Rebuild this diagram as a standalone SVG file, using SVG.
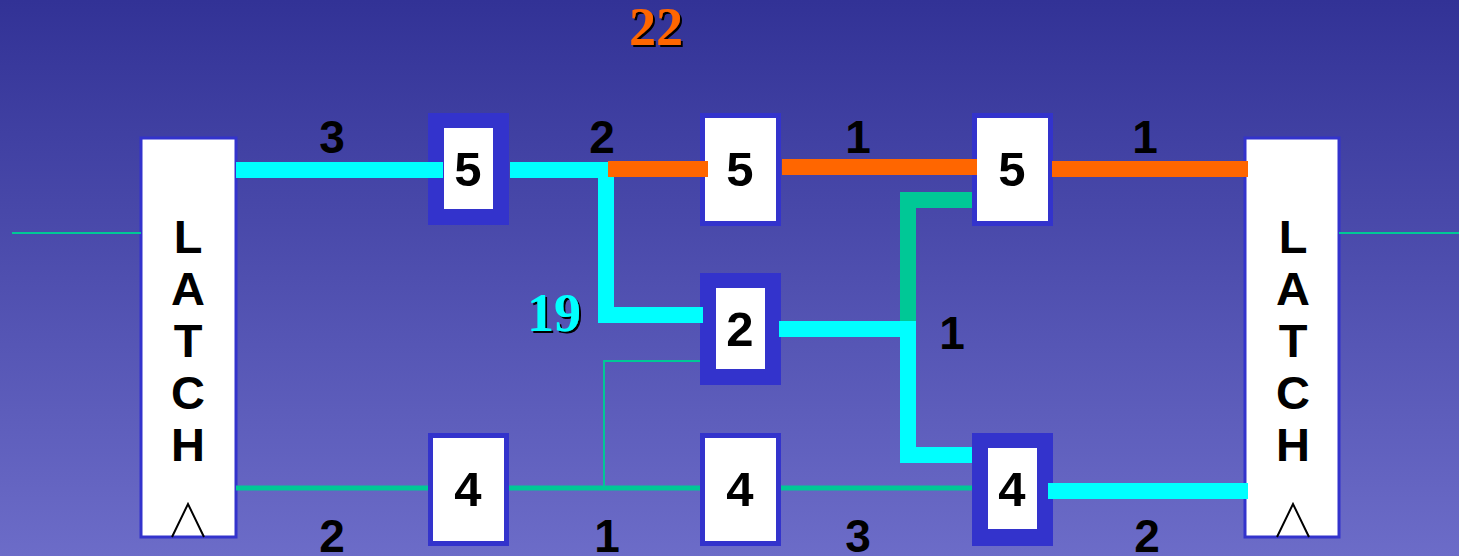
<svg xmlns="http://www.w3.org/2000/svg" width="1459" height="556" viewBox="0 0 1459 556">
<defs>
<linearGradient id="bg" x1="0" y1="0" x2="0" y2="1">
<stop offset="0" stop-color="#323296"/>
<stop offset="1" stop-color="#6c6cc8"/>
</linearGradient>
<filter id="sh" x="-20%" y="-20%" width="150%" height="150%">
<feDropShadow dx="2" dy="2" stdDeviation="0" flood-color="#000000" flood-opacity="1"/>
</filter>
</defs>
<style>
.latch{fill:#ffffff;stroke:#3333cc;stroke-width:3}
.outer{fill:#3333cc}
.inner{fill:#ffffff}
.lt{font-family:"Liberation Sans",Arial,sans-serif;font-weight:bold;font-size:47px;fill:#000;text-anchor:middle}
.num{font-family:"Liberation Sans",Arial,sans-serif;font-weight:bold;font-size:49px;fill:#000;text-anchor:middle}
.lbl{font-family:"Liberation Sans",Arial,sans-serif;font-weight:bold;font-size:46px;fill:#000;text-anchor:middle}
.big{font-family:"Liberation Serif","Times New Roman",serif;font-weight:bold;font-size:54px;text-anchor:middle;filter:url(#sh)}
.clk{fill:none;stroke:#000;stroke-width:2}
.cy{fill:none;stroke:#00ffff;stroke-width:16}
.or{fill:none;stroke:#ff6600;stroke-width:16}
.tk{fill:none;stroke:#00c896;stroke-width:16}
.tm{fill:none;stroke:#00c896;stroke-width:5}
.tt{fill:none;stroke:#00c896;stroke-width:2}
</style>
<rect x="0" y="0" width="1459" height="556" fill="url(#bg)"/>

<g id="latch-left">
<rect class="latch" x="141" y="138" width="95" height="399"/>
<text class="lt" x="188" y="253">L</text>
<text class="lt" x="188" y="305">A</text>
<text class="lt" x="188" y="357">T</text>
<text class="lt" x="188" y="409">C</text>
<text class="lt" x="188" y="461">H</text>
<polyline class="clk" points="172,537 188,504 204,537"/>
</g>
<g id="latch-right">
<rect class="latch" x="1245" y="138" width="94" height="399"/>
<text class="lt" x="1293" y="253">L</text>
<text class="lt" x="1293" y="305">A</text>
<text class="lt" x="1293" y="357">T</text>
<text class="lt" x="1293" y="409">C</text>
<text class="lt" x="1293" y="461">H</text>
<polyline class="clk" points="1277,537 1293,504 1309,537"/>
</g>

<g id="gate-a">
<rect class="outer" x="428" y="113" width="81" height="112"/>
<rect class="inner" x="444" y="128" width="49" height="81"/>
<text class="num" x="468" y="186">5</text>
</g>
<g id="gate-b">
<rect class="outer" x="700" y="113" width="81" height="113"/>
<rect class="inner" x="705" y="118" width="71" height="103"/>
<text class="num" x="740" y="186">5</text>
</g>
<g id="gate-c">
<rect class="outer" x="972" y="113" width="81" height="113"/>
<rect class="inner" x="977" y="118" width="71" height="103"/>
<text class="num" x="1012" y="186">5</text>
</g>
<g id="gate-d">
<rect class="outer" x="700" y="273" width="81" height="112"/>
<rect class="inner" x="716" y="288" width="49" height="81"/>
<text class="num" x="740" y="346">2</text>
</g>
<g id="gate-e">
<rect class="outer" x="428" y="433" width="81" height="113"/>
<rect class="inner" x="433" y="438" width="71" height="103"/>
<text class="num" x="468" y="506">4</text>
</g>
<g id="gate-f">
<rect class="outer" x="700" y="433" width="81" height="113"/>
<rect class="inner" x="705" y="438" width="71" height="103"/>
<text class="num" x="740" y="506">4</text>
</g>
<g id="gate-g">
<rect class="outer" x="972" y="433" width="81" height="113"/>
<rect class="inner" x="988" y="448" width="49" height="81"/>
<text class="num" x="1012" y="506">4</text>
</g>

<g id="connectors">
<line class="tt" x1="12" y1="233" x2="141" y2="233"/>
<line class="tt" x1="1339" y1="233" x2="1459" y2="233"/>
<line class="tm" x1="236" y1="488" x2="428" y2="488"/>
<line class="tm" x1="509" y1="488" x2="700" y2="488"/>
<line class="tm" x1="781" y1="488" x2="972" y2="488"/>
<polyline class="tt" points="604,488 604,361 700,361"/>
<line class="cy" x1="236" y1="170" x2="443" y2="170"/>
<polyline class="cy" points="510,170 606,170 606,315 703,315"/>
<line class="or" x1="608" y1="169" x2="708" y2="169"/>
<line class="or" x1="782" y1="167" x2="977" y2="167"/>
<line class="or" x1="1052" y1="169" x2="1248" y2="169"/>
<polyline class="tk" points="972,200 908,200 908,328"/>
<polyline class="cy" points="779,329 908,329 908,455 972,455"/>
<line class="cy" x1="1048" y1="491" x2="1248" y2="491"/>
</g>

<g id="labels">
<text class="lbl" x="332" y="153">3</text>
<text class="lbl" x="602" y="153">2</text>
<text class="lbl" x="858" y="153">1</text>
<text class="lbl" x="1145" y="153">1</text>
<text class="lbl" x="952" y="349">1</text>
<text class="lbl" x="332" y="552">2</text>
<text class="lbl" x="607" y="552">1</text>
<text class="lbl" x="858" y="552">3</text>
<text class="lbl" x="1147" y="552">2</text>
<text class="big" x="656" y="45" fill="#ff6600">22</text>
<text class="big" x="554" y="331" fill="#00ffff">19</text>
</g>
</svg>
